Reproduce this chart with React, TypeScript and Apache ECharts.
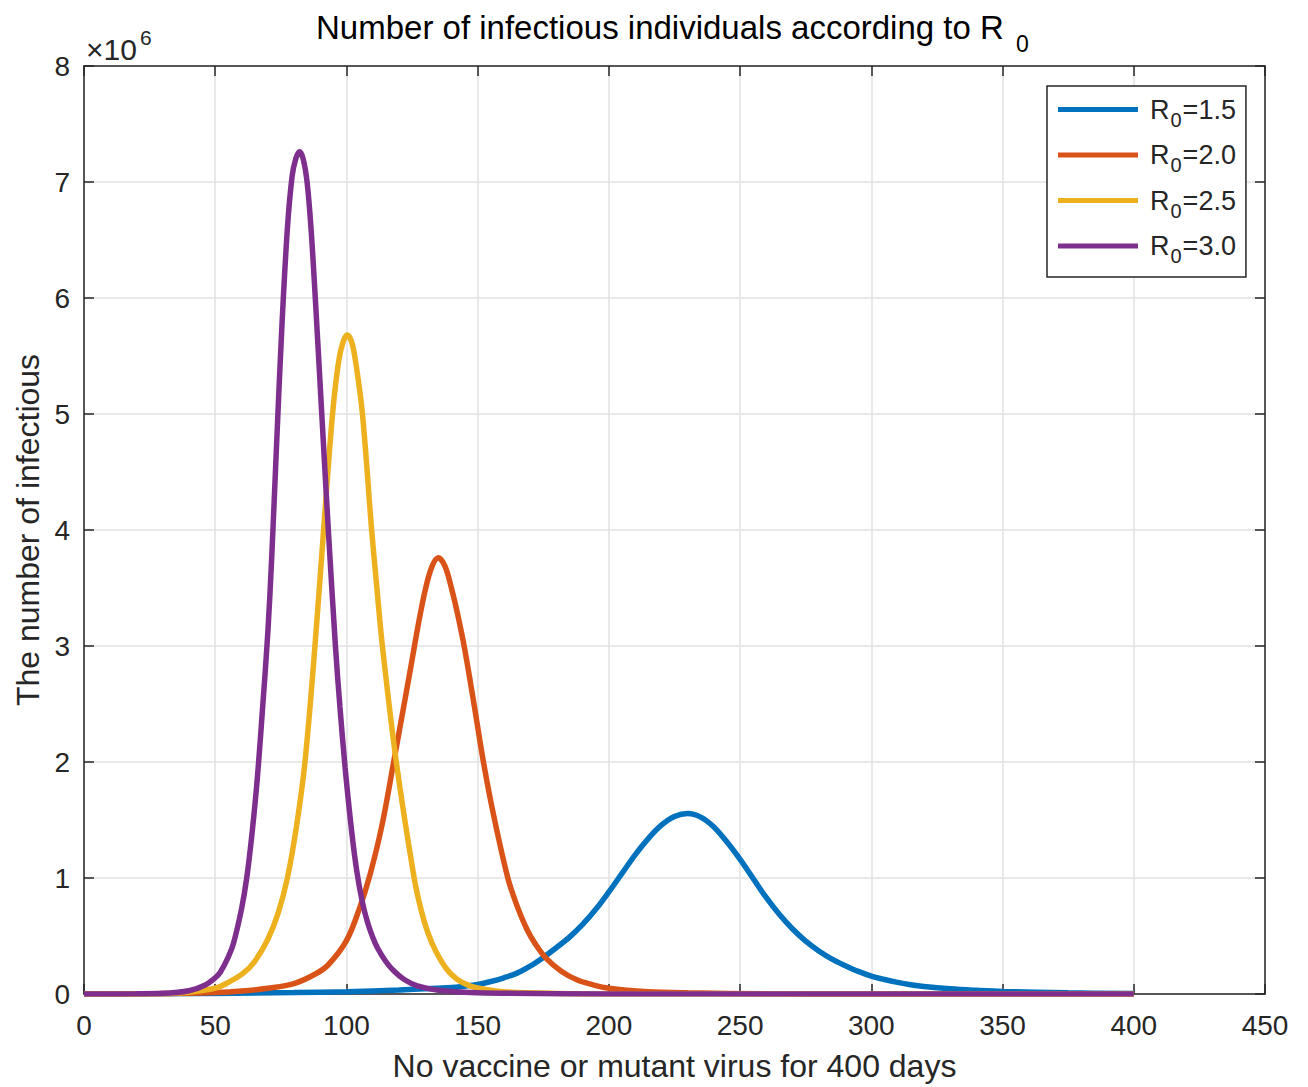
import React, { useEffect, useRef } from "react";
import * as echarts from "echarts";

// Infectious individuals (in millions, axis shows ×10^6) over 400 days for four R0 values.
const r15Days = [0, 50, 80, 100, 120, 140, 145, 150, 155, 160, 165, 170, 175, 180, 185, 190, 195, 200, 205, 210, 215, 220, 225, 230, 235, 240, 245, 250, 255, 260, 265, 270, 275, 280, 285, 290, 295, 300, 305, 310, 315, 320, 330, 340, 350, 375, 400];
const r15Values = [0, 0.005, 0.012, 0.02, 0.035, 0.055, 0.067, 0.083, 0.108, 0.14, 0.18, 0.24, 0.315, 0.4, 0.49, 0.6, 0.73, 0.88, 1.04, 1.2, 1.34, 1.455, 1.53, 1.556, 1.525, 1.44, 1.31, 1.16, 0.995, 0.83, 0.685, 0.56, 0.455, 0.37, 0.3, 0.245, 0.195, 0.155, 0.125, 0.1, 0.08, 0.065, 0.045, 0.032, 0.022, 0.01, 0.004];

const r20Days = [0, 30, 50, 60, 70, 80, 88, 93, 100, 105, 109, 113.5, 118, 122, 125, 127.5, 130, 132.5, 135, 137.5, 140, 142.5, 145, 148.6, 152.2, 156, 161.5, 165, 168.7, 172, 176, 182, 188, 193, 200, 215, 230, 260, 300, 400];
const r20Values = [0, 0.002, 0.012, 0.025, 0.05, 0.09, 0.17, 0.25, 0.46, 0.74, 1.03, 1.45, 2.0, 2.5, 2.88, 3.2, 3.48, 3.68, 3.76, 3.69, 3.5, 3.26, 2.98, 2.5, 2.0, 1.55, 1.0, 0.76, 0.56, 0.43, 0.31, 0.195, 0.12, 0.085, 0.05, 0.02, 0.01, 0.002, 0, 0];

const r25Days = [0, 20, 30, 40, 50, 55, 60.7, 65, 70, 74, 77.5, 81, 84.2, 88, 91.3, 94.7, 97, 98.7, 100.3, 102, 103.5, 106.1, 109.6, 111.6, 113.7, 119, 125.8, 128.5, 131, 134, 138, 142, 147, 153, 160, 180, 200, 400];
const r25Values = [0, 0.001, 0.004, 0.015, 0.05, 0.1, 0.18, 0.28, 0.47, 0.7, 1.0, 1.45, 2.0, 3.0, 4.0, 5.0, 5.45, 5.62, 5.68, 5.62, 5.45, 5.0, 4.0, 3.5, 3.0, 2.0, 1.0, 0.72, 0.53, 0.37, 0.22, 0.13, 0.07, 0.04, 0.02, 0.005, 0, 0];

const r30Days = [0, 20, 30, 40, 46, 50, 52, 55, 57, 60, 62, 64, 66, 68, 70, 71.5, 73.5, 75.5, 77.5, 79.3, 80.7, 82.1, 83.5, 85, 86.5, 88, 90.6, 93.1, 95.8, 97.5, 99.5, 102, 104, 106, 108, 110, 112, 115, 118, 122, 127, 135, 150, 200, 400];
const r30Values = [0, 0.002, 0.0055, 0.028, 0.075, 0.14, 0.19, 0.32, 0.44, 0.73, 1.0, 1.38, 1.85, 2.45, 3.1, 3.75, 4.8, 5.8, 6.6, 7.05, 7.2, 7.26, 7.2, 7.0, 6.6, 6.05, 5.0, 4.0, 3.0, 2.48, 1.95, 1.4, 1.05, 0.8, 0.62, 0.49, 0.39, 0.28, 0.2, 0.125, 0.07, 0.033, 0.01, 0.001, 0];

const seriesNames = ["R0=1.5", "R0=2.0", "R0=2.5", "R0=3.0"];
const seriesColors = ["#0072BD", "#D95319", "#EDB120", "#7E2F8E"];
const seriesDays = [r15Days, r20Days, r25Days, r30Days];
const seriesValues = [r15Values, r20Values, r25Values, r30Values];

const xMin = 0;
const xMax = 450;
const xStep = 50;
const yMin = 0;
const yMax = 8;
const yStep = 1;

const titleText = "Number of infectious individuals according to R";
const xName = "No vaccine or mutant virus for 400 days";
const yName = "The number of infectious";

const FONT = "'Liberation Sans', Arial, Helvetica, sans-serif";
const INK = "#262626";

export default function App() {
  const ref = useRef<HTMLDivElement>(null);

  useEffect(() => {
    document.body.style.margin = "0";
    if (!ref.current) return;
    const chart = echarts.init(ref.current, undefined, { renderer: "svg" });

    const tickStyle = { show: true, inside: true, length: 10, lineStyle: { color: INK, width: 1.5 } };
    const lineStyle = { show: true, onZero: false, lineStyle: { color: INK, width: 1.5 } };

    const option: any = {
      animation: false,
      backgroundColor: "#ffffff",
      textStyle: { fontFamily: FONT },
      grid: { left: 84, right: 43, top: 66, bottom: 89, containLabel: false },
      xAxis: [
        {
          type: "value",
          min: xMin,
          max: xMax,
          interval: xStep,
          position: "bottom",
          axisLine: lineStyle,
          axisTick: tickStyle,
          axisLabel: { color: INK, fontSize: 28, margin: 17, fontFamily: FONT },
          splitLine: { show: true, lineStyle: { color: "#e2e2e2", width: 1.5 } },
          name: xName,
          nameLocation: "middle",
          nameGap: 56,
          nameTextStyle: { color: INK, fontSize: 32, fontFamily: FONT },
        },
        {
          type: "value",
          min: xMin,
          max: xMax,
          interval: xStep,
          position: "top",
          axisLine: lineStyle,
          axisTick: tickStyle,
          axisLabel: { show: false },
          splitLine: { show: false },
        },
      ],
      yAxis: [
        {
          type: "value",
          min: yMin,
          max: yMax,
          interval: yStep,
          position: "left",
          axisLine: lineStyle,
          axisTick: tickStyle,
          axisLabel: { color: INK, fontSize: 28, margin: 14, fontFamily: FONT },
          splitLine: { show: true, lineStyle: { color: "#e2e2e2", width: 1.5 } },
          name: yName,
          nameLocation: "middle",
          nameGap: 40,
          nameTextStyle: { color: INK, fontSize: 32, fontFamily: FONT },
        },
        {
          type: "value",
          min: yMin,
          max: yMax,
          interval: yStep,
          position: "right",
          axisLine: lineStyle,
          axisTick: tickStyle,
          axisLabel: { show: false },
          splitLine: { show: false },
        },
      ],
      legend: {
        orient: "vertical",
        left: 1047,
        top: 86,
        padding: [10, 10, 11, 11],
        itemGap: 12,
        itemWidth: 80,
        itemHeight: 5,
        icon: "rect",
        selectedMode: false,
        backgroundColor: "#ffffff",
        borderColor: INK,
        borderWidth: 1.5,
        borderRadius: 0,
        data: seriesNames,
        formatter: (name: string) => `{r|R}{s|0}{v|${name.replace("R0", "")}}`,
        textStyle: {
          fontFamily: FONT,
          color: INK,
          rich: {
            r: { fontSize: 27, lineHeight: 40, verticalAlign: "middle", color: INK, padding: [0, 0, 0, 7], fontFamily: FONT },
            s: { fontSize: 20, lineHeight: 40, verticalAlign: "bottom", color: INK, padding: [0, 1, 0, 1], fontFamily: FONT },
            v: { fontSize: 27, lineHeight: 40, verticalAlign: "middle", color: INK, fontFamily: FONT },
          },
        },
      },
      graphic: [
        {
          type: "text",
          x: 316,
          y: 27,
          style: {
            text: titleText,
            fill: "#000000",
            font: `33px ${FONT}`,
            textAlign: "left",
            textVerticalAlign: "middle",
          },
        },
        {
          type: "text",
          x: 1016,
          y: 44,
          style: {
            text: "0",
            fill: "#000000",
            font: `23px ${FONT}`,
            textAlign: "left",
            textVerticalAlign: "middle",
          },
        },
        {
          type: "text",
          x: 86,
          y: 49,
          style: {
            text: "×10",
            fill: INK,
            font: `30px ${FONT}`,
            textAlign: "left",
            textVerticalAlign: "middle",
          },
        },
        {
          type: "text",
          x: 140,
          y: 37,
          style: {
            text: "6",
            fill: INK,
            font: `21px ${FONT}`,
            textAlign: "left",
            textVerticalAlign: "middle",
          },
        },
      ],
      series: seriesNames.map((name, i) => ({
        name,
        type: "line",
        xAxisIndex: 0,
        yAxisIndex: 0,
        data: seriesDays[i].map((d, k) => [d, seriesValues[i][k]]),
        smooth: 0.35,
        showSymbol: false,
        symbol: "none",
        color: seriesColors[i],
        lineStyle: { color: seriesColors[i], width: 5.5 },
        z: 2 + i,
      })),
    };

    chart.setOption(option);
    return () => chart.dispose();
  }, []);

  return <div ref={ref} style={{ width: 1308, height: 1087 }} />;
}
